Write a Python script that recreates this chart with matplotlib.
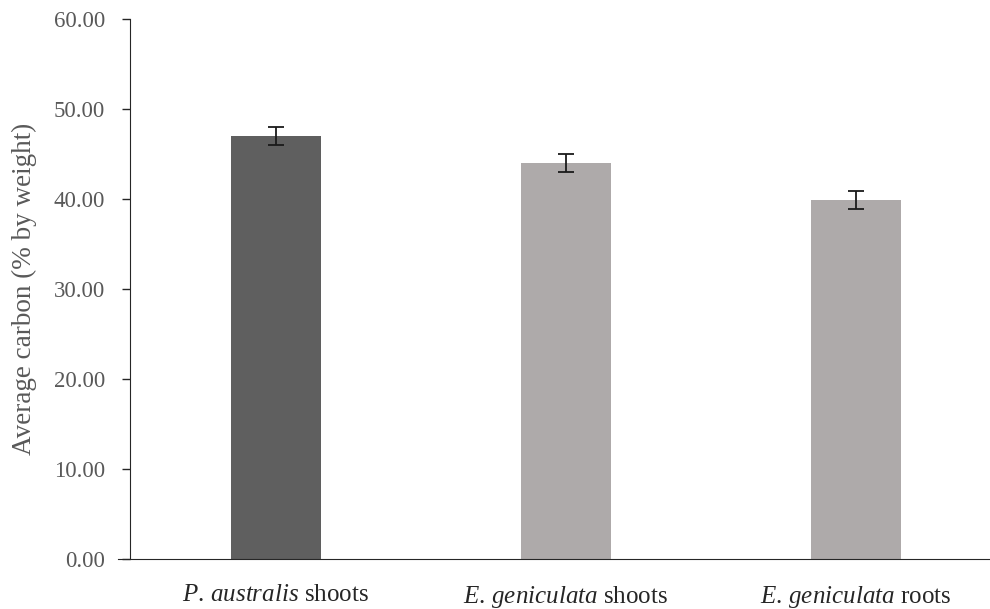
import numpy as np
import matplotlib
matplotlib.use("Agg")
import matplotlib.pyplot as plt

plt.rcParams['font.family'] = ['Liberation Serif', 'DejaVu Serif']
plt.rcParams['mathtext.fontset'] = 'custom'
plt.rcParams['mathtext.rm'] = 'Liberation Serif'
plt.rcParams['mathtext.it'] = 'Liberation Serif:italic'

# data
categories = [r"$\mathit{P.\,australis}$ shoots",
              r"$\mathit{E.\,geniculata}$ shoots",
              r"$\mathit{E.\,geniculata}$ roots"]
carbon = [47.0, 44.0, 39.9]
carbon_err = [1.0, 1.05, 1.0]
bar_colors = ['#5f5f5f', '#aeaaaa', '#aeaaaa']
yticks = [0, 10, 20, 30, 40, 50, 60]

fig = plt.figure(figsize=(9.9, 6.09), dpi=100)
ax = fig.add_axes([130/990, 1 - 559/609, 860/990, 540/609])

x = np.arange(len(categories))
ax.bar(x, carbon, width=0.31, color=bar_colors, zorder=2)
ax.errorbar(x, carbon, yerr=carbon_err, fmt='none', ecolor='#1a1a1a',
            elinewidth=1.3, capsize=6, capthick=1.3, zorder=3)

ax.set_ylim(0, 60)
ax.set_xlim(-0.503, 2.462)
ax.set_yticks(yticks)
ax.set_yticklabels([f"{v:.2f}" for v in yticks])
ax.set_xticks(x)
ax.set_xticklabels(categories)

ax.spines['top'].set_visible(False)
ax.spines['right'].set_visible(False)
ax.spines['left'].set_color('#262626')
ax.spines['bottom'].set_color('#262626')
ax.spines['bottom'].set_bounds(-0.545, 2.462)

ax.tick_params(axis='y', direction='out', length=6, width=1, color='#262626',
               labelsize=16.5, labelcolor='#595959', pad=12)
ax.tick_params(axis='x', length=0, labelsize=18, labelcolor='#262626', pad=18)

ax.set_ylabel("Average carbon (% by weight)", fontsize=19.5, color='#595959', labelpad=12)

fig.savefig("out.png", dpi=100)
